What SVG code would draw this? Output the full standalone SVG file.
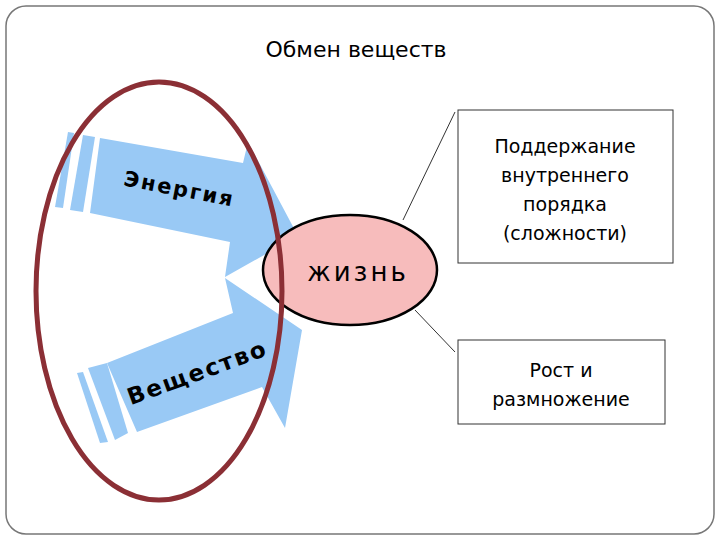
<svg xmlns="http://www.w3.org/2000/svg" width="720" height="540" viewBox="0 0 720 540">
<style>
.a{fill:#99c9f5}
.t{font-family:"DejaVu Sans",sans-serif;fill:#000}
.b{fill:#fff;stroke:#333;stroke-width:1}
</style>
<rect x="0" y="0" width="720" height="540" fill="#fff"/>
<rect x="6" y="6" width="708" height="528" rx="20" fill="#fff" stroke="#777" stroke-width="1.5"/>
<text class="t" x="356" y="57" font-size="22" text-anchor="middle">Обмен веществ</text>
<g id="energy">
<polygon class="a" points="68,132 74,133 63,208 55,207"/>
<polygon class="a" points="83,135 95,137 83,212 70,210"/>
<polygon class="a" points="100,138 243,163 248,142 298,236 225,277 230,242 90,213"/>
<text class="t" x="178" y="196" font-size="21" font-weight="bold" letter-spacing="2" text-anchor="middle" transform="rotate(11 178 196)">Энергия</text>
</g>
<g id="substance">
<polygon class="a" points="77,373 83,372 108,442 100,443"/>
<polygon class="a" points="88,368 107,363 128,433 115,440"/>
<polygon class="a" points="107,363 233,313 225,278 302,330 285,428 262,387 137,432"/>
<text class="t" x="200" y="380" font-size="23" font-weight="bold" letter-spacing="2" text-anchor="middle" transform="rotate(-20 200 380)">Вещество</text>
</g>
<g id="connectors" stroke="#333" stroke-width="1">
<line x1="403" y1="220" x2="455" y2="112"/>
<line x1="415" y1="310" x2="455" y2="352"/>
</g>
<g id="life">
<ellipse cx="350" cy="270" rx="87" ry="55" fill="#f7bcbc" stroke="#000" stroke-width="2.5"/>
<text class="t" x="358" y="281" font-size="26" letter-spacing="3" text-anchor="middle">жизнь</text>
</g>
<g id="oval">
<ellipse cx="159" cy="291" rx="123" ry="209" fill="none" stroke="#8b2f35" stroke-width="5"/>
</g>
<g id="order">
<rect class="b" x="458" y="110" width="215" height="153"/>
<text class="t" font-size="19" text-anchor="middle"><tspan x="565" y="153">Поддержание</tspan><tspan x="565" y="182">внутреннего</tspan><tspan x="565" y="211">порядка</tspan><tspan x="565" y="240">(сложности)</tspan></text>
</g>
<g id="growth">
<rect class="b" x="458" y="340" width="207" height="84"/>
<text class="t" font-size="19" text-anchor="middle"><tspan x="561" y="377">Рост и</tspan><tspan x="561" y="406">размножение</tspan></text>
</g>
</svg>
